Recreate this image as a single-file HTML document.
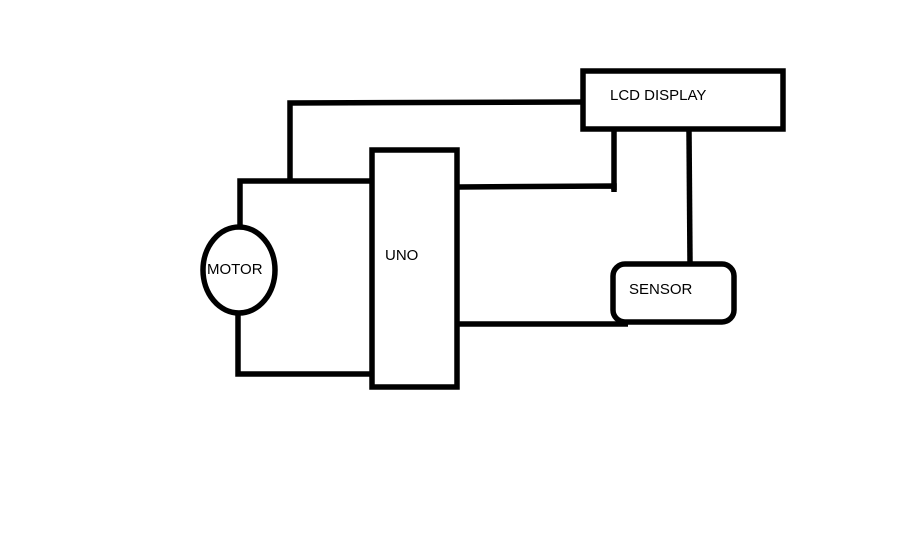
<!DOCTYPE html>
<html><head><style>body{margin:0;background:#fff}svg{display:block}</style></head><body>
<svg width="918" height="551" xmlns="http://www.w3.org/2000/svg">
<rect width="918" height="551" fill="#fff"/>
<g stroke="#000" stroke-width="5.5" fill="none">
<rect x="583" y="71" width="200" height="58"/>
<rect x="372" y="150" width="85" height="237"/>
<ellipse cx="239" cy="270" rx="36" ry="43"/>
<rect x="613" y="264" width="121" height="58" rx="12"/>
<polyline points="581,102 290,103 290,181"/>
<polyline points="370,181 240,181 240,227"/>
<polyline points="238,313 238,374 370,374"/>
<polyline points="459,187 614,186 614,192"/>
<line x1="614" y1="131" x2="614" y2="190"/>
<line x1="689" y1="131" x2="690" y2="262"/>
<line x1="459" y1="324" x2="628" y2="324"/>
</g>
<g font-family="Liberation Sans, sans-serif" font-size="15" fill="#000">
<text x="610" y="100">LCD DISPLAY</text>
<text x="207" y="274">MOTOR</text>
<text x="385" y="260">UNO</text>
<text x="629" y="294">SENSOR</text>
</g>
</svg>
</body></html>
